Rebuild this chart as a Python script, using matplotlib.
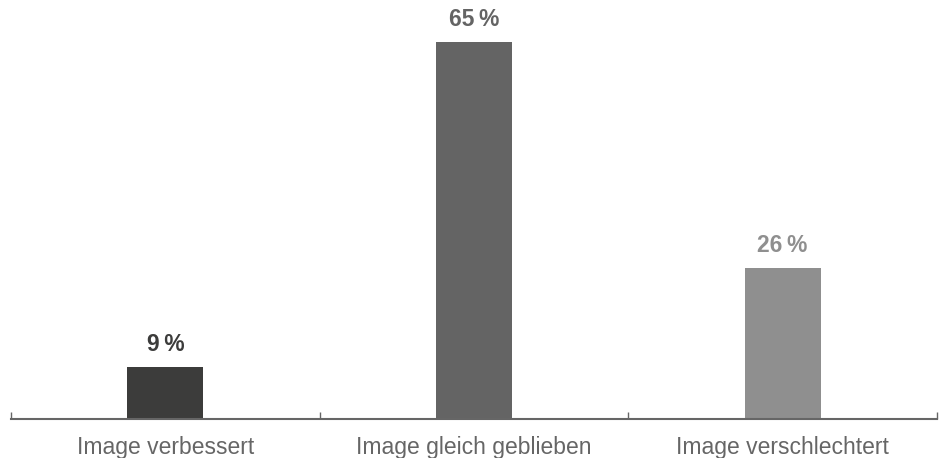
import matplotlib
matplotlib.use("Agg")
import matplotlib.pyplot as plt

categories = ["Image verbessert", "Image gleich geblieben", "Image verschlechtert"]
values = [9, 65, 26]
value_labels = ["9\u2009%", "65\u2009%", "26\u2009%"]
bar_colors = ["#3c3c3b", "#646464", "#8f8f8f"]

plt.rcParams["font.family"] = ["Liberation Sans", "DejaVu Sans"]

fig = plt.figure(figsize=(9.46, 4.58), dpi=100)
ax = fig.add_axes([11 / 946, 39 / 458, 926 / 946, 406 / 458])

x = range(len(categories))
bars = ax.bar(x, values, width=0.246, color=bar_colors)

for xi, v, lab, c in zip(x, values, value_labels, bar_colors):
    ax.annotate(lab, (xi, v), xytext=(0, 8), textcoords="offset points",
                ha="center", va="bottom", fontsize=16.5, fontweight="bold", color=c)

ax.set_xlim(-0.5, len(categories) - 0.5)
ax.set_ylim(0, 70)

for side in ("top", "right", "left"):
    ax.spines[side].set_visible(False)
ax.spines["bottom"].set_color("#666666")
ax.spines["bottom"].set_linewidth(1.5)

ax.set_yticks([])
ax.set_xticks(x)
ax.set_xticklabels(categories, fontsize=16.5, color="#666666")
ax.tick_params(axis="x", length=0, pad=12)

# category boundary ticks drawn upward from the axis
ax.set_xticks([-0.5 + i for i in range(len(categories) + 1)], minor=True)
ax.tick_params(axis="x", which="minor", direction="in", length=5, width=1, color="#666666")

fig.savefig("out.png", dpi=100)
